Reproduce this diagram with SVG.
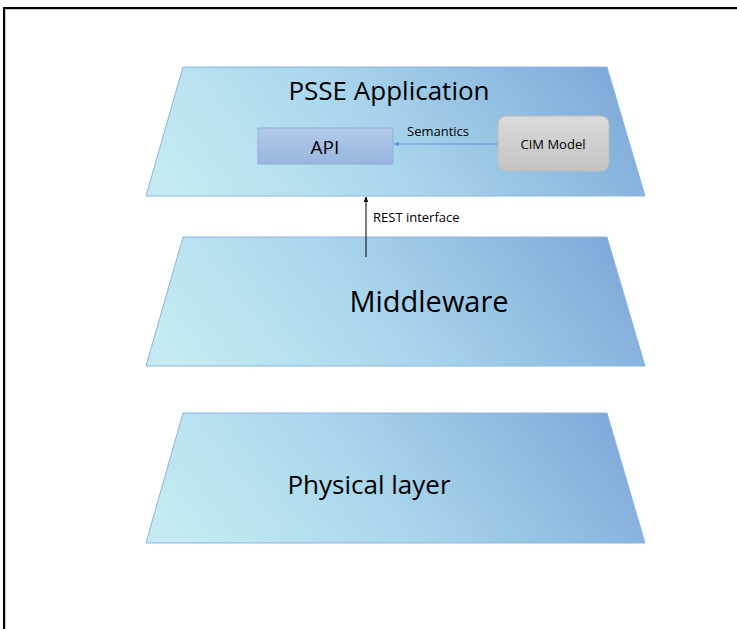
<svg xmlns="http://www.w3.org/2000/svg" width="737" height="629" viewBox="0 0 737 629">
<defs>
<linearGradient id="layerGrad" x1="0" y1="0.6" x2="1" y2="0.4">
<stop offset="0" stop-color="#c3ebf1"/>
<stop offset="0.45" stop-color="#a9d6ed"/>
<stop offset="1" stop-color="#7faad9"/>
</linearGradient>
<linearGradient id="apiGrad" x1="0" y1="0" x2="0" y2="1">
<stop offset="0" stop-color="#b3cbea"/>
<stop offset="1" stop-color="#97b6e0"/>
</linearGradient>
<linearGradient id="cimGrad" x1="0" y1="0" x2="0" y2="1">
<stop offset="0" stop-color="#dadada"/>
<stop offset="1" stop-color="#c3c3c3"/>
</linearGradient>
<marker id="arrBlack" viewBox="0 0 10 10" refX="9" refY="5" markerWidth="6" markerHeight="6" orient="auto">
<path d="M0,1 L10,5 L0,9 z" fill="#000"/>
</marker>
<marker id="arrBlue" viewBox="0 0 10 10" refX="9" refY="5" markerWidth="6" markerHeight="6" orient="auto">
<path d="M0,1 L10,5 L0,9 z" fill="#5b9bd5"/>
</marker>
</defs>
<style>
.layer{fill:url(#layerGrad);stroke:#8ab6de;stroke-width:1}
.big{font-family:"Open Sans","Liberation Sans",sans-serif;fill:#000;text-anchor:middle}
.small{font-family:"Open Sans","Liberation Sans",sans-serif;fill:#000}
</style>
<rect width="737" height="629" fill="#fff"/>
<path d="M4,629 V8 H737" fill="none" stroke="#000" stroke-width="2"/>
<path d="M5.5,629 V9.5 H737" fill="none" stroke="#999" stroke-width="1" opacity="0.5"/>

<g id="physical">
<polygon class="layer" points="183,413 607,413 645,543 146,543"/>
<text class="big" x="369" y="494" font-size="26">Physical layer</text>
</g>
<g id="middleware">
<polygon class="layer" points="183,237 607,237 645,366 146,366"/>
<text class="big" x="429" y="312" font-size="29">Middleware</text>
</g>
<g id="psse">
<polygon class="layer" points="183,67 607,67 645,196 146,196"/>
<text class="big" x="389" y="100" font-size="26">PSSE Application</text>
</g>
<g id="api">
<rect x="258" y="128" width="135" height="36" fill="url(#apiGrad)" stroke="#8fb0dc" stroke-width="1"/>
<text class="big" x="325" y="154" font-size="19">API</text>
</g>
<g id="cim">
<rect x="498" y="116" width="111" height="55" rx="8" fill="url(#cimGrad)" stroke="#bcbcbc" stroke-width="1"/>
<text class="big" x="553" y="149" font-size="13">CIM Model</text>
</g>
<g id="connectors">
<line x1="498" y1="144" x2="394" y2="144" stroke="#5b9bd5" stroke-width="1" marker-end="url(#arrBlue)"/>
<text class="small" x="407" y="136" font-size="13">Semantics</text>
<line x1="366" y1="257" x2="366" y2="197" stroke="#000" stroke-width="1" marker-end="url(#arrBlack)"/>
<text class="small" x="373" y="222" font-size="13">REST interface</text>
</g>
</svg>
